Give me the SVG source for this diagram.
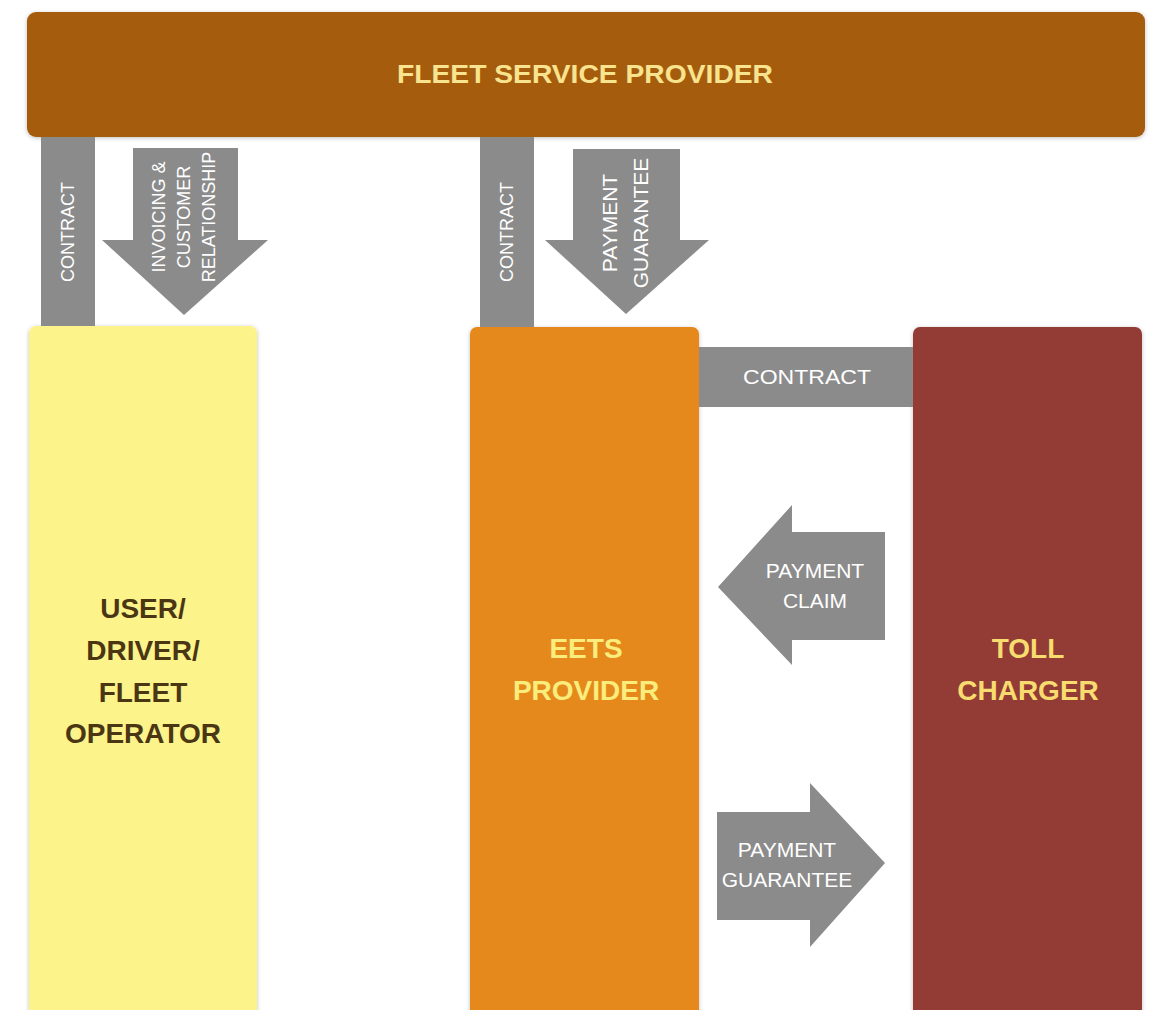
<svg xmlns="http://www.w3.org/2000/svg" width="1151" height="1010" viewBox="0 0 1151 1010">
<defs>
<style>
.lbl{font-family:"Liberation Sans",Arial,sans-serif;font-weight:bold;text-anchor:middle}
.ar{font-family:"Liberation Sans",Arial,sans-serif;fill:#ffffff;text-anchor:middle}
.gray{fill:#8b8b8b}
</style>
<filter id="sh" x="-10%" y="-10%" width="120%" height="120%">
<feDropShadow dx="0" dy="1" stdDeviation="2" flood-color="#000" flood-opacity="0.25"/>
</filter>
</defs>
<rect x="0" y="0" width="1151" height="1010" fill="#ffffff"/>

<g id="fleet-service-provider">
<rect x="27" y="12" width="1118" height="125" rx="9" fill="#a65c0c" filter="url(#sh)"/>
<text class="lbl" x="585" y="83" font-size="26" fill="#f8e38e" textLength="376" lengthAdjust="spacingAndGlyphs">FLEET SERVICE PROVIDER</text>
</g>

<g id="user-driver-fleet-operator">
<rect x="29" y="326" width="228" height="700" rx="7" fill="#fdf38b" filter="url(#sh)"/>
<text class="lbl" font-size="28" fill="#4a3612"><tspan x="143" y="618">USER/</tspan><tspan x="143" y="660">DRIVER/</tspan><tspan x="143" y="702">FLEET</tspan><tspan x="143" y="743">OPERATOR</tspan></text>
</g>

<g id="eets-provider">
<rect x="470" y="327" width="229" height="700" rx="7" fill="#e5891a" filter="url(#sh)"/>
<text class="lbl" font-size="28" fill="#faed7c"><tspan x="586" y="658">EETS</tspan><tspan x="586" y="700">PROVIDER</tspan></text>
</g>

<g id="toll-charger">
<rect x="913" y="327" width="229" height="700" rx="7" fill="#933a34" filter="url(#sh)"/>
<text class="lbl" font-size="28" fill="#f8dc70"><tspan x="1028" y="658">TOLL</tspan><tspan x="1028" y="700">CHARGER</tspan></text>
</g>

<g id="connectors">
<!-- FSP - user contract -->
<rect class="gray" x="41" y="137" width="54" height="189"/>
<text class="ar" font-size="18" transform="translate(68,232) rotate(-90)" x="0" y="6">CONTRACT</text>
<!-- invoicing arrow -->
<polygon class="gray" points="133,148 238,148 238,240 268,240 184,315 102,240 133,240"/>
<text class="ar" font-size="18" transform="translate(184,217) rotate(-90)"><tspan x="0" y="-19">INVOICING &amp;</tspan><tspan x="0" y="6">CUSTOMER</tspan><tspan x="0" y="31">RELATIONSHIP</tspan></text>
<!-- FSP - EETS contract -->
<rect class="gray" x="480" y="137" width="54" height="190"/>
<text class="ar" font-size="18" transform="translate(507,232) rotate(-90)" x="0" y="6">CONTRACT</text>
<!-- payment guarantee down arrow -->
<polygon class="gray" points="573,149 680,149 680,240 709,240 626,314 545,240 573,240"/>
<text class="ar" font-size="21" transform="translate(626,223) rotate(-90)"><tspan x="0" y="-9">PAYMENT</tspan><tspan x="0" y="22">GUARANTEE</tspan></text>
<!-- EETS - Toll contract -->
<rect class="gray" x="699" y="347" width="214" height="60"/>
<text class="ar" font-size="21" x="807" y="384" textLength="128" lengthAdjust="spacingAndGlyphs">CONTRACT</text>
<!-- payment claim arrow (left) -->
<polygon class="gray" points="885,532 885,640 792,640 792,665 718,587 792,505 792,532"/>
<text class="ar" font-size="21"><tspan x="815" y="578">PAYMENT</tspan><tspan x="815" y="608">CLAIM</tspan></text>
<!-- payment guarantee arrow (right) -->
<polygon class="gray" points="717,812 810,812 810,783 885,863 810,947 810,920 717,920"/>
<text class="ar" font-size="21"><tspan x="787" y="857">PAYMENT</tspan><tspan x="787" y="887">GUARANTEE</tspan></text>
</g>
</svg>
